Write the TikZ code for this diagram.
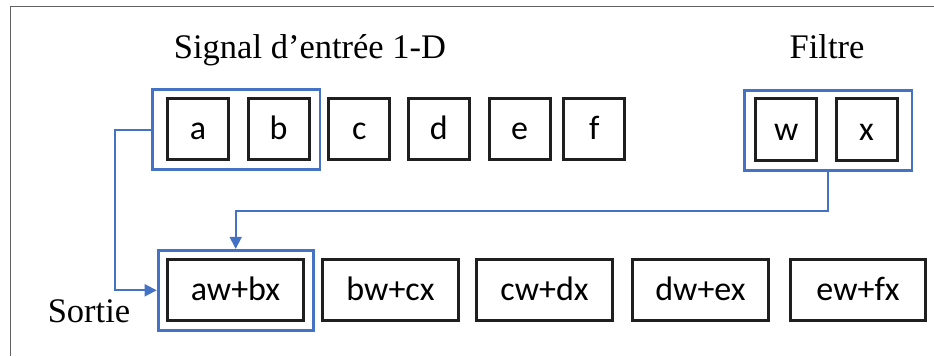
\documentclass[tikz,border=0pt]{standalone}
\usepackage{fontspec}
\setmainfont{Liberation Serif}
\newfontfamily\cellfont{Carlito}
\usepackage{tikz}
\usetikzlibrary{arrows.meta}
\usetikzlibrary{positioning}
\definecolor{grpblue}{RGB}{68,114,196}
\tikzstyle{cell}=[draw=black!88,line width=3pt,minimum width=61pt,minimum height=61.5pt,inner sep=0pt,text height=21pt,text depth=0pt,font=\cellfont\fontsize{34}{40}\selectfont]
\tikzstyle{outcell}=[cell,minimum width=135.5pt]
\tikzstyle{group}=[draw=grpblue,line width=2.8pt,inner sep=0pt]
\tikzstyle{conn}=[draw=grpblue,line width=1.7pt,-{Triangle[length=12pt,width=12pt]}]
\tikzstyle{caption}=[anchor=base,inner sep=0pt,font=\fontsize{34.5}{40}\selectfont]

\begin{document}
\begin{tikzpicture}[x=1pt,y=-1pt]
\useasboundingbox (0,0) rectangle (934,356);
\draw[black!62,line width=1pt] (10,356) -- (10,6) -- (934,6);
\node [caption] (tin) at (310,58) {Signal d’entrée 1-D};
\node [caption] (tflt) at (827,58) {Filtre};
\node [caption] (tout) at (89,322.7) {Sortie};
\node [cell] (a) at (198,129) {a};
\node [cell] (b) at (278.5,129) {b};
\node [cell] (c) at (359.2,129) {c};
\node [cell] (d) at (438.8,129) {d};
\node [cell] (e) at (519.5,129) {e};
\node [cell] (f) at (594.2,129) {f};
\node [cell] (w) at (786.3,129.7) {w};
\node [cell] (x) at (866.5,129.7) {x};
\node [outcell] (s1) at (235.5,289.8) {aw+bx};
\node [outcell] (s2) at (390.5,289.8) {bw+cx};
\node [outcell] (s3) at (544.5,289.8) {cw+dx};
\node [outcell] (s4) at (700.5,289.8) {dw+ex};
\node [outcell] (s5) at (858,289.8) {ew+fx};
\node [group,minimum width=167.8pt,minimum height=80.3pt] (gin) at (236,129.7) {};
\node [group,minimum width=167.2pt,minimum height=80pt] (gflt) at (828.3,130.7) {};
\node [group,minimum width=155.2pt,minimum height=80pt] (gout) at (235.7,290.3) {};
\coordinate (bendl) at (115,129.7);
\coordinate (bendr) at (828.3,211);
\draw [conn] (gin.west) -- (bendl) |- (gout.west);
\draw [conn] (gflt.south) -- (bendr) -| (gout.north);
\end{tikzpicture}
\end{document}
